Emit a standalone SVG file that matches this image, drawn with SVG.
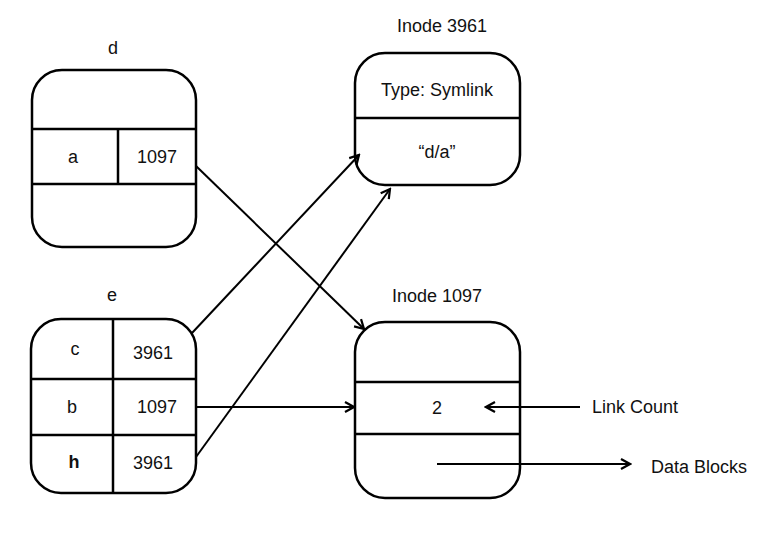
<svg xmlns="http://www.w3.org/2000/svg" width="775" height="540" viewBox="0 0 775 540">
<style>
.box{fill:#fff;stroke:#000;stroke-width:2.5}
.ln{stroke:#000;stroke-width:2.5;fill:none}
.t{font-family:"Liberation Sans",Arial,sans-serif;font-size:18px;fill:#111;text-anchor:middle}
.tl{font-family:"Liberation Sans",Arial,sans-serif;font-size:18px;fill:#111}
.c{stroke:#000;stroke-width:2;fill:none;marker-end:url(#ah)}
</style>
<defs>
<marker id="ah" markerWidth="14" markerHeight="14" refX="12" refY="7" orient="auto" markerUnits="userSpaceOnUse">
<path d="M3,2 L12,7 L3,12" fill="none" stroke="#000" stroke-width="2.2"/>
</marker>
</defs>
<rect width="775" height="540" fill="#fff"/>
<g id="dir-d">
<text class="t" x="113" y="54">d</text>
<rect class="box" x="32" y="70" width="164" height="177" rx="30" ry="30"/>
<line class="ln" x1="32" y1="129" x2="196" y2="129"/>
<line class="ln" x1="32" y1="184" x2="196" y2="184"/>
<line class="ln" x1="118" y1="129" x2="118" y2="184"/>
<text class="t" x="73" y="163">a</text>
<text class="t" x="157" y="163">1097</text>
</g>
<g id="dir-e">
<text class="t" x="112" y="301">e</text>
<rect class="box" x="31" y="319" width="165" height="174" rx="30" ry="30"/>
<line class="ln" x1="31" y1="379" x2="196" y2="379"/>
<line class="ln" x1="31" y1="435" x2="196" y2="435"/>
<line class="ln" x1="113" y1="319" x2="113" y2="493"/>
<text class="t" x="75" y="355">c</text>
<text class="t" x="153" y="359">3961</text>
<text class="t" x="72" y="413">b</text>
<text class="t" x="157" y="413">1097</text>
<text class="t" x="74" y="468" font-weight="bold" font-size="15">h</text>
<text class="t" x="153" y="469">3961</text>
</g>
<g id="inode-3961">
<text class="t" x="442" y="32">Inode 3961</text>
<rect class="box" x="355" y="53" width="165" height="132" rx="30" ry="30"/>
<line class="ln" x1="355" y1="118" x2="520" y2="118"/>
<text class="t" x="437" y="96">Type: Symlink</text>
<text class="t" x="437" y="158">“d/a”</text>
</g>
<g id="inode-1097">
<text class="t" x="437" y="302">Inode 1097</text>
<rect class="box" x="355" y="322" width="165" height="176" rx="30" ry="30"/>
<line class="ln" x1="355" y1="382" x2="520" y2="382"/>
<line class="ln" x1="355" y1="434" x2="520" y2="434"/>
<text class="t" x="437" y="414">2</text>
</g>
<g id="link-count">
<text class="tl" x="592" y="413">Link Count</text>
</g>
<g id="data-blocks">
<text class="tl" x="651" y="473">Data Blocks</text>
</g>
<g id="connectors">
<line class="c" x1="196" y1="166" x2="364" y2="329"/>
<line class="c" x1="192" y1="333" x2="359" y2="155"/>
<line class="c" x1="196" y1="457" x2="390" y2="189"/>
<line class="c" x1="196" y1="407" x2="354" y2="407"/>
<line class="c" x1="580" y1="407" x2="486" y2="407"/>
<line class="c" x1="437" y1="464" x2="630" y2="464"/>
</g>
</svg>
